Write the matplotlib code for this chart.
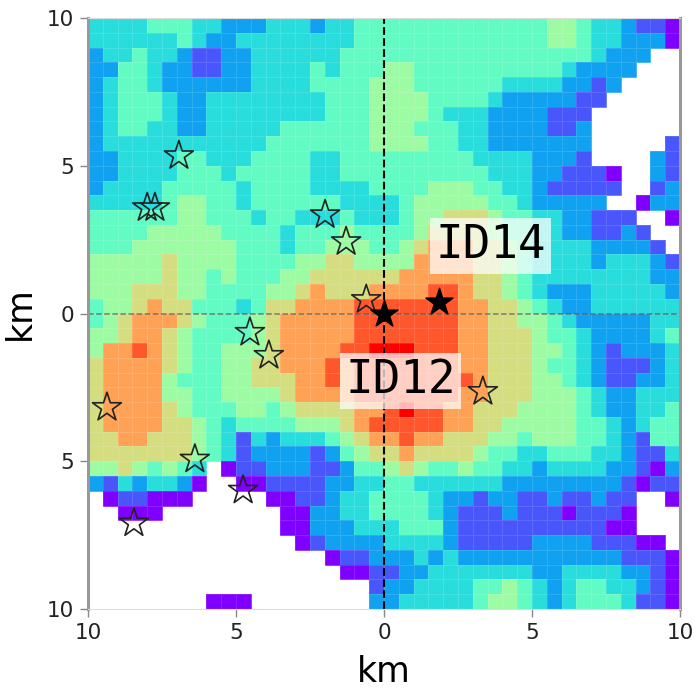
import numpy as np
import matplotlib
matplotlib.use("Agg")
import matplotlib.pyplot as plt

# binned levels, top row first, "." = no data
left = [
    "33334443322233323344",
    "33333343223333333344",
    "23343321122333333444",
    "22443221122333343444",
    "23443222222333344445",
    "23444322333333334445",
    "23444322333333334445",
    "23443322333334444445",
    "23333333333344444445",
    "22333344333444433444",
    "22333344434444433444",
    "23333444443444433334",
    "33333455443444444333",
    "44444455444344333433",
    "44445555544443444544",
    "44455555554443445554",
    "55555655554444556655",
    "55555655454445566666",
    "55566655444455676667",
    "45567664443466777788",
    "45677765444567777788",
    "55677654444567777788",
    "57787654455567777889",
    "67777654455667778788",
    "67777544455666778788",
    "67777554455556777788",
    "67777654445545666677",
    "67777665434444555678",
    "66776665431323334567",
    "66666665431222212456",
    "55654543.01122211244",
    "21323320..0011112233",
    ".011000.....00112334",
    "..000........0022334",
    ".............0022233",
    "..............012222",
    "................0112",
    ".................001",
    "...................1",
    "........000........2",
]
right = [
    "44444444444554332110",
    "44444444444554332220",
    "444444444444443222..",
    "55444444444432222...",
    "5544444433332212....",
    "555444432222211.....",
    "55543332222111......",
    "55444332222112......",
    "55544332222222.....1",
    "44444433332221....21",
    "4444444333221110..21",
    "4445554433211111..12",
    "345555544322222..022",
    "34556665443322111..0",
    "445666654433221121..",
    "4567776654333322221.",
    "55777766543333233321",
    "67777766543333333322",
    "77788766543222333332",
    "88888776654322333333",
    "88888776655432222233",
    "88888776665443222234",
    "99888776665543212223",
    "88888776665443211123",
    "88888876665543211223",
    "88888776665554322333",
    "89887766655554322334",
    "88887766555554432344",
    "78776665545554432144",
    "67666654433444332113",
    "56544544332333322102",
    "44333333222222221011",
    "44432212211211211..0",
    "44432111211101110...",
    "34442111111111100...",
    "3333211111222211100.",
    "22323222222222221110",
    "12233333332233332210",
    "22333344543234433210",
    "23333345543234443110",
]

star_x = [-6.93, -8.0, -7.74, -1.99, -1.28, -0.6, -4.53, -3.89, -9.36, 3.34, -6.39, -4.76, -8.45]
star_y = [5.34, 3.58, 3.58, 3.34, 2.43, 0.47, -0.64, -1.42, -3.18, -2.64, -4.93, -5.98, -7.09]
main_x = [0.0, 1.87]
main_y = [0.0, 0.4]
tick_pos = [-10, -5, 0, 5, 10]
xtick_lab = ["10", "5", "0", "5", "10"]
ytick_lab = ["10", "5", "0", "5", "10"]

rows = [a + b for a, b in zip(left, right)]
assert all(len(r) == 40 for r in rows), [i for i, r in enumerate(rows) if len(r) != 40]
grid = np.array([[np.nan if c == "." else float(c) for c in r] for r in rows])
grid = np.ma.masked_invalid(grid)

fig = plt.figure(figsize=(6.94, 6.91), dpi=100)
ax = fig.add_axes([88 / 694, 1 - 609 / 691, 592 / 694, 591 / 691])
edges = np.linspace(-10, 10, 41)
ax.pcolormesh(edges, edges[::-1], grid, cmap="rainbow", vmin=0, vmax=9,
              edgecolors=(1, 1, 1, 0.13), linewidth=0.7)
ax.axvline(0, color="k", ls="--", lw=1.5)
ax.axhline(0, color="#555555", ls="--", lw=1.1, alpha=0.7)
ax.scatter(star_x, star_y, marker="*", s=480, facecolors="none", edgecolors="#222222", linewidths=1.2, zorder=3)
ax.scatter(main_x, main_y, marker="*", s=420, color="k", zorder=4)
box = dict(facecolor="white", alpha=0.72, edgecolor="none", pad=4)
ax.text(3.6, 2.3, "ID14", fontsize=33, family="DejaVu Sans Mono", ha="center", va="center", bbox=box, zorder=5)
ax.text(0.55, -2.27, "ID12", fontsize=33, family="DejaVu Sans Mono", ha="center", va="center", bbox=box, zorder=5)
ax.set_xlim(-10, 10)
ax.set_ylim(-10, 10)
ax.set_xticks(tick_pos)
ax.set_xticklabels(xtick_lab, fontsize=15.5, color="#222222")
ax.set_yticks(tick_pos)
ax.set_yticklabels(ytick_lab, fontsize=15.5, color="#222222")
ax.tick_params(length=6, width=1, color="#888888", pad=4)
ax.set_xlabel("km", fontsize=25, labelpad=9)
ax.set_ylabel("km", fontsize=25, labelpad=7)
for s in ["left", "right"]:
    ax.spines[s].set_color("#999999")
    ax.spines[s].set_linewidth(2.2)
for s in ["top", "bottom"]:
    ax.spines[s].set_color("#dddddd")
    ax.spines[s].set_linewidth(0.8)
fig.savefig("out.png", dpi=100)
